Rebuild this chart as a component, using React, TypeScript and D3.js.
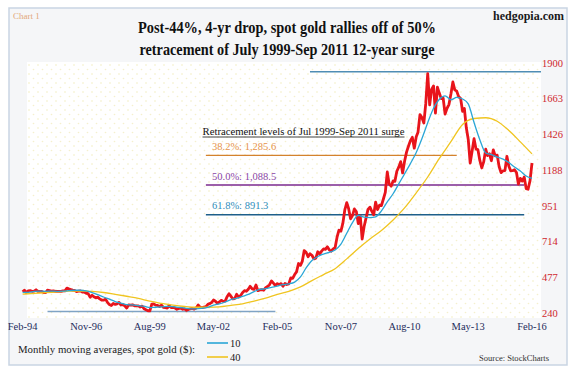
import React from "react";
import * as d3 from "d3";

// ---------- DATA ----------
// Monthly spot gold closes ($), Feb-1994 .. Feb-2016
const goldStart = "1994-02";
const goldPrices = [
  381, 391, 376, 387, 388, 384, 385, 394, 383, 383, 383,
  375, 376, 392, 389, 385, 387, 383, 383, 384, 383, 387, 387,
  405, 400, 396, 392, 390, 382, 385, 387, 379, 379, 371, 369,
  345, 358, 348, 340, 345, 334, 326, 325, 332, 311, 296, 290,
  303, 297, 301, 310, 293, 296, 288, 273, 294, 292, 294, 288,
  287, 287, 280, 286, 268, 261, 255, 255, 299, 300, 292, 290,
  283, 293, 277, 275, 273, 288, 276, 277, 273, 265, 270, 273,
  265, 267, 258, 264, 268, 270, 266, 273, 293, 279, 275, 279,
  282, 297, 302, 309, 326, 318, 305, 313, 324, 317, 319, 348,
  368, 350, 334, 336, 364, 346, 355, 375, 388, 384, 398, 417,
  400, 397, 426, 388, 393, 395, 391, 408, 416, 428, 453, 438,
  422, 435, 428, 435, 417, 436, 429, 433, 473, 470, 495, 513,
  568, 556, 582, 654, 643, 613, 633, 623, 599, 604, 646, 632,
  650, 665, 662, 679, 659, 650, 665, 673, 743, 789, 783, 834,
  923, 972, 933, 865, 886, 930, 913, 833, 884, 730, 814, 869,
  927, 942, 916, 891, 975, 926, 955, 953, 996, 1040, 1175, 1096,
  1081, 1116, 1113, 1180, 1207, 1244, 1169, 1246, 1307, 1346, 1383, 1405,
  1333, 1409, 1439, 1556, 1536, 1500, 1628, 1828, 1620, 1722, 1746, 1566,
  1738, 1697, 1662, 1664, 1559, 1598, 1622, 1692, 1772, 1720, 1711, 1675,
  1663, 1578, 1597, 1468, 1393, 1234, 1313, 1396, 1327, 1323, 1250, 1202,
  1244, 1326, 1284, 1296, 1250, 1322, 1282, 1287, 1210, 1171, 1183, 1184,
  1279, 1213, 1183, 1184, 1190, 1172, 1095, 1133, 1115, 1142, 1065, 1061,
  1118, 1235,
];

// 10-month moving average, read every 3 months (Feb, May, Aug, Nov) from Feb-1994
const ma10Step = 3;
const ma10Values = [
  377, 377, 383, 385,
  384, 385, 384, 385,
  388, 391, 391, 386,
  375, 362, 346, 332,
  316, 306, 295, 294,
  289, 285, 276, 278,
  280, 284, 282, 277,
  273, 268, 267, 271,
  278, 292, 301, 313,
  329, 337, 350, 363,
  382, 397, 401, 410,
  418, 428, 433, 445,
  479, 539, 588, 615,
  631, 642, 658, 697,
  769, 840, 887, 876,
  873, 878, 917, 977,
  1031, 1096, 1163, 1231,
  1305, 1396, 1502, 1598,
  1658, 1680, 1654, 1670,
  1659, 1627, 1503, 1388,
  1301, 1290, 1274, 1261,
  1238, 1208, 1182, 1149,
  1133,
];

// 40-month moving average, read every 6 months (Feb, Aug) from Feb-1994
const ma40Step = 6;
const ma40Values = [
  365, 370, 375, 380, 385, 386, 383, 376, 364, 351, 337, 318,
  304, 292, 283, 278, 278, 281, 291, 301, 319, 339, 363, 384,
  413, 455, 495, 534, 599, 668, 731, 787, 857, 937, 1037, 1142,
  1265, 1376, 1490, 1530, 1535, 1512, 1450, 1375, 1295,
];

const yTickValues = [240, 477, 714, 951, 1188, 1426, 1663, 1900];
const xTickLabels = ["Feb-94", "Nov-96", "Aug-99", "May-02", "Feb-05", "Nov-07", "Aug-10", "May-13", "Feb-16"];

const retracementLevels = [
  { label: "38.2%: 1,285.6", value: 1285.6, from: "2002-01", to: "2012-11", line: "#d4822c", text: "#e6934a" },
  { label: "50.0%: 1,088.5", value: 1088.5, from: "2002-01", to: "2015-10", line: "#7b2a8e", text: "#8a45a6" },
  { label: "61.8%: 891.3", value: 891.3, from: "2002-01", to: "2015-10", line: "#1e5f8a", text: "#2f8dbd" },
];
const surgeHigh = { value: 1840, from: "2006-07", to: "2016-07" };
const surgeLow = { value: 250, from: "1995-03", to: "2005-01" };

const titleLines = [
  "Post-44%, 4-yr drop, spot gold rallies off of 50%",
  "retracement of July 1999-Sep 2011 12-year surge",
];

// ---------- HELPERS ----------
const parseYM = d3.timeParse("%Y-%m");
const parseTick = d3.timeParse("%b-%y");
const start = parseYM(goldStart) as Date;
const toSeries = (vals: number[], step: number) =>
  vals.map((v, i) => ({ date: d3.timeMonth.offset(start, i * step), value: v }));

const priceSeries = toSeries(goldPrices, 1);
const ma10Series = toSeries(ma10Values, ma10Step);
const ma40Series = toSeries(ma40Values, ma40Step);

const W = 575;
const H = 372;
const FONT = "'Liberation Serif', 'Times New Roman', Times, serif";

export default function App() {
  const x = d3
    .scaleTime()
    .domain([parseYM("1994-02") as Date, parseYM("2016-02") as Date])
    .range([22.6, 532]);
  const y = d3.scaleLinear().domain([240, 1900]).range([313, 62.7]);

  const line = d3
    .line<{ date: Date; value: number }>()
    .x((d) => x(d.date))
    .y((d) => y(d.value));
  const smooth = d3
    .line<{ date: Date; value: number }>()
    .x((d) => x(d.date))
    .y((d) => y(d.value))
    .curve(d3.curveMonotoneX);

  const hLine = (lv: { value: number; from: string; to: string }) => ({
    x1: x(parseYM(lv.from) as Date),
    x2: x(parseYM(lv.to) as Date),
    y: y(lv.value),
  });

  const plot = { x0: 27, x1: 541, y0: 62, y1: 318 };
  const top = hLine(surgeHigh);
  const low = hLine(surgeLow);

  return (
    <div style={{ position: "absolute", left: 0, top: 0 }}>
      <svg width={W} height={H} style={{ display: "block" }} fontFamily={FONT}>
        <defs>
          <pattern id="dots" width="9" height="9" patternUnits="userSpaceOnUse">
            <rect width="9" height="9" fill="#ffffff" />
            <circle cx="2" cy="2" r="0.8" fill="#f3edc0" />
            <circle cx="6.5" cy="6.5" r="0.8" fill="#f5f0cc" />
          </pattern>
        </defs>
        <rect x={0} y={0} width={W} height={H} fill="#ffffff" />
        <rect x={9} y={8} width={558} height={357} fill="#f5f6f8" stroke="#c9d5e3" strokeWidth={1.5} />
        <rect x={plot.x0} y={plot.y0} width={plot.x1 - plot.x0} height={plot.y1 - plot.y0} fill="url(#dots)" />

        {/* header */}
        <text x={13} y={19} fontSize={9} fill="#e3a878">Chart 1</text>
        <text x={564} y={20} fontSize={12} fontWeight="bold" fill="#1a1a1a" textAnchor="end">hedgopia.com</text>
        {titleLines.map((t, i) => (
          <text
            key={t}
            x={287}
            y={33 + i * 22}
            fontSize={16.5}
            fontWeight="bold"
            fill="#111"
            textAnchor="middle"
            textLength={i === 0 ? 298 : 295}
            lengthAdjust="spacingAndGlyphs"
          >
            {t}
          </text>
        ))}

        {/* surge high / low lines */}
        <line x1={top.x1} x2={Math.min(top.x2, plot.x1)} y1={top.y} y2={top.y} stroke="#4f8db4" strokeWidth={1.3} />
        <line x1={low.x1} x2={low.x2} y1={low.y} y2={low.y} stroke="#7fa3c4" strokeWidth={1.6} />

        {/* retracement levels */}
        <text x={202.5} y={135} fontSize={10.5} fill="#111" textLength={202} lengthAdjust="spacingAndGlyphs">
          Retracement levels of Jul 1999-Sep 2011 surge
        </text>
        <line x1={202.5} x2={404.5} y1={137} y2={137} stroke="#111" strokeWidth={0.8} />
        {retracementLevels.map((lv) => {
          const h = hLine(lv);
          return (
            <g key={lv.label}>
              <line x1={h.x1} x2={h.x2} y1={h.y} y2={h.y} stroke={lv.line} strokeWidth={1.4} />
              <text x={212} y={h.y - 5.5} fontSize={10.5} fill={lv.text}>
                {lv.label}
              </text>
            </g>
          );
        })}

        {/* series */}
        <path d={line(priceSeries) || ""} fill="none" stroke="#e8141b" strokeWidth={2.8} strokeLinejoin="round" />
        <path d={smooth(ma40Series) || ""} fill="none" stroke="#f0c520" strokeWidth={1.3} />
        <path d={smooth(ma10Series) || ""} fill="none" stroke="#2aa6d6" strokeWidth={1.3} />

        {/* y axis labels */}
        {yTickValues.map((v) => (
          <text key={v} x={542} y={y(v) + 3.8} fontSize={10.5} fill="#d0262e">
            {v}
          </text>
        ))}

        {/* x axis labels */}
        {xTickLabels.map((lab) => (
          <text key={lab} x={x(parseTick(lab) as Date)} y={330} fontSize={10.5} fill="#1f2d5c" textAnchor="middle">
            {lab}
          </text>
        ))}

        {/* legend */}
        <text x={18} y={353} fontSize={10.5} fill="#1a1a1a" textLength={177} lengthAdjust="spacingAndGlyphs">
          Monthly moving averages, spot gold ($):
        </text>
        <line x1={207} x2={228} y1={343} y2={343} stroke="#2aa6d6" strokeWidth={1.6} />
        <text x={230} y={347} fontSize={10.5} fill="#1a1a1a">10</text>
        <line x1={207} x2={228} y1={357} y2={357} stroke="#f0c520" strokeWidth={1.6} />
        <text x={230} y={361} fontSize={10.5} fill="#1a1a1a">40</text>
        <text x={549} y={361} fontSize={8} fill="#333" textAnchor="end" textLength={70} lengthAdjust="spacingAndGlyphs">
          Source: StockCharts
        </text>
      </svg>
    </div>
  );
}
